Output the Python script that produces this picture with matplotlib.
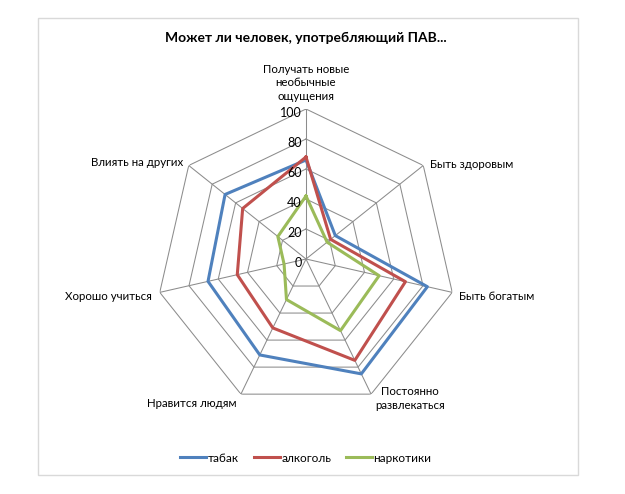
import numpy as np
import matplotlib
matplotlib.use("Agg")
from matplotlib import pyplot as plt
from matplotlib.patches import Rectangle

plt.rcParams["font.family"] = ["Lato", "DejaVu Sans"]

# data
categories = [
    "Получать новые\nнеобычные\nощущения",
    "Быть здоровым",
    "Быть богатым",
    "Постоянно\nразвлекаться",
    "Нравится людям",
    "Хорошо учиться",
    "Влиять на других",
]
tabak = [66, 25, 83, 85, 71, 67, 69]
alkogol = [68, 21, 68, 75, 51, 47, 54]
narkotiki = [42, 18, 50, 53, 30, 15, 24]
series_names = ["табак", "алкоголь", "наркотики"]
rings = [0, 20, 40, 60, 80, 100]
title = "Может ли человек, употребляющий ПАВ..."

colors = ["#4F81BD", "#C0504D", "#9BBB59"]
grid_color = "#8C8C8C"

W, H, DPI = 625, 494, 100
fig = plt.figure(figsize=(W / DPI, H / DPI), dpi=DPI)

# chart area border
fig.patches.append(
    Rectangle((38 / W, 1 - 475 / H), 540 / W, 457 / H, transform=fig.transFigure,
              fill=False, edgecolor="#D9D9D9", linewidth=1.0)
)

cx, cy, rad = 306, 259, 150
ax = fig.add_axes([(cx - rad) / W, (H - cy - rad) / H, 2 * rad / W, 2 * rad / H],
                  projection="polar")
ax.set_theta_offset(np.pi / 2)
ax.set_theta_direction(-1)
ax.set_ylim(0, 100)
ax.grid(False)
ax.spines["polar"].set_visible(False)
ax.set_xticks([])
ax.set_yticks([])
ax.patch.set_alpha(0)

n = len(categories)
angles = np.arange(n) * 2 * np.pi / n
closed = np.append(angles, angles[0])

# heptagon grid
for r in rings[1:]:
    ax.plot(closed, [r] * (n + 1), color=grid_color, lw=0.75, zorder=1)
for a in angles:
    ax.plot([a, a], [0, 100], color=grid_color, lw=0.75, zorder=1)

# radial labels
for r in rings:
    ax.annotate(str(r), xy=(0, r), xytext=(-3, -3), textcoords="offset points",
                ha="right", va="center", fontsize=9, color="#000000", zorder=5)

lines = []
for vals, col, name in zip([tabak, alkogol, narkotiki], colors, series_names):
    (ln,) = ax.plot(closed, vals + vals[:1], color=col, lw=2.2, label=name, zorder=3)
    lines.append(ln)

# category labels: (offset x, offset y, ha, va)
label_pos = [
    (0, 5, "center", "bottom"),
    (5, 1, "left", "center"),
    (5, -3, "left", "center"),
    (3, 6, "left", "top"),
    (-3, -7, "right", "center"),
    (-6, -3, "right", "center"),
    (-4, 2, "right", "center"),
]
for a, lab, (ox, oy, ha, va) in zip(angles, categories, label_pos):
    ax.annotate(lab, xy=(a, 100), xytext=(ox, oy), textcoords="offset points",
                ha=ha, va=va, multialignment="center", fontsize=8.3,
                linespacing=1.3, annotation_clip=False)

fig.text(cx / W, 1 - 38 / H, title, ha="center", va="center",
         fontsize=10, fontweight="bold")

fig.legend(handles=lines, loc="center", bbox_to_anchor=(cx / W, 1 - 458 / H),
           ncol=3, frameon=False, fontsize=8.5, handlelength=2.2,
           handletextpad=0.1, columnspacing=1.3)

fig.savefig("out.png", dpi=DPI)
